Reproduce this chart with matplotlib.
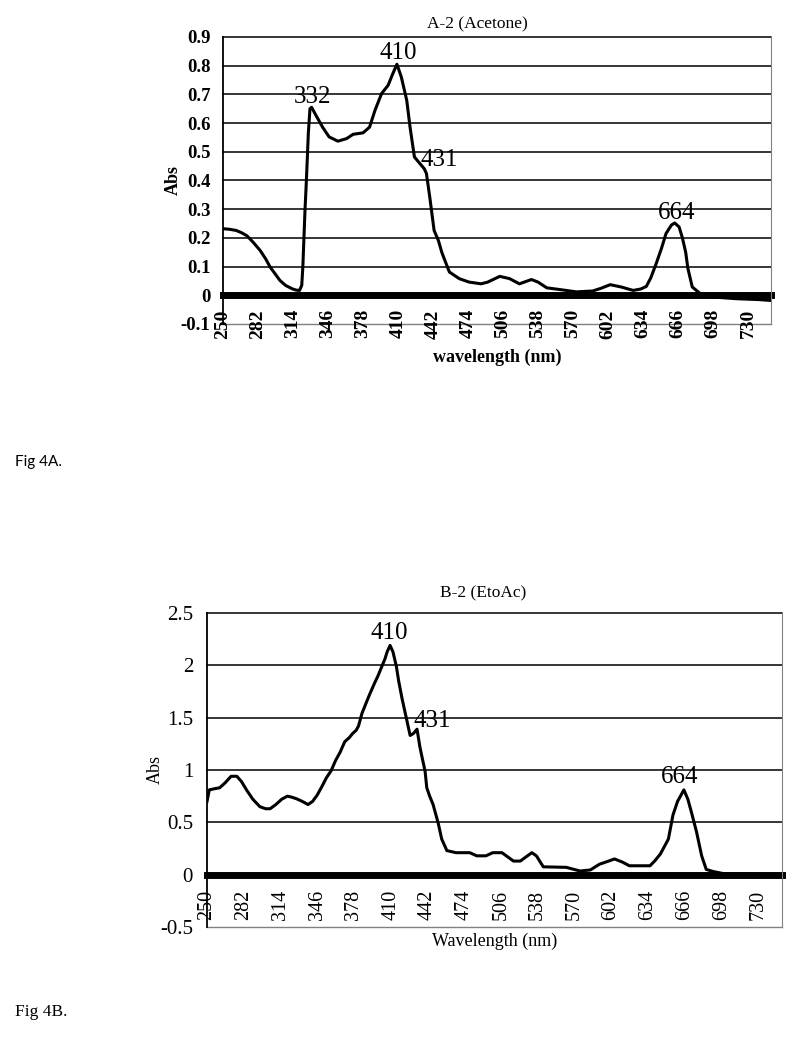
import matplotlib
matplotlib.use("Agg")
import matplotlib.pyplot as plt

# -----------------------------
# Data
# -----------------------------
# Fig 4A : A-2 (Acetone)
wl_a = [250, 256, 262, 267, 272, 278, 284, 289, 293, 298, 302, 307, 313, 317, 320,
        322, 323, 324, 325, 326, 327, 328, 329.5, 331, 335, 341, 347, 355, 363, 369,
        378, 384, 389, 395, 401, 405, 409, 413, 418, 421, 425, 430, 434, 436, 439,
        443, 447, 450, 453, 457, 466, 475, 486, 492, 503, 512, 521, 532, 538, 546,
        558, 573, 588, 596, 604, 614, 625, 632, 637, 641, 646, 651, 655, 660, 663,
        667, 670, 673, 675, 679, 686, 698, 720, 740, 751]
abs_a = [0.232, 0.230, 0.226, 0.218, 0.207, 0.183, 0.156, 0.127, 0.099, 0.073, 0.052,
         0.035, 0.023, 0.018, 0.017, 0.035, 0.10, 0.20, 0.30, 0.38, 0.47, 0.564, 0.65,
         0.655, 0.627, 0.586, 0.552, 0.537, 0.546, 0.561, 0.566, 0.586, 0.645, 0.703,
         0.732, 0.77, 0.805, 0.761, 0.679, 0.586, 0.482, 0.459, 0.441, 0.424, 0.343,
         0.226, 0.19, 0.15, 0.12, 0.081, 0.058, 0.046, 0.040, 0.046, 0.066, 0.058,
         0.040, 0.055, 0.046, 0.026, 0.020, 0.012, 0.015, 0.025, 0.037, 0.029, 0.017,
         0.022, 0.031, 0.06, 0.11, 0.165, 0.215, 0.245, 0.252, 0.238, 0.20, 0.15,
         0.094, 0.029, 0.007, -0.006, -0.012, -0.015, -0.018]
peaks_a = [332, 410, 431, 664]
peak_pos_a = [(332, 0.692), (410, 0.845), (448, 0.472), (665, 0.287)]
yticks_a = [-0.1, 0, 0.1, 0.2, 0.3, 0.4, 0.5, 0.6, 0.7, 0.8, 0.9]
ylabels_a = ["-0.1", "0", "0.1", "0.2", "0.3", "0.4", "0.5", "0.6", "0.7", "0.8", "0.9"]

# Fig 4B : B-2 (EtoAc)
wl_b = [250, 252, 256, 261, 266, 271, 276, 280, 285, 290, 296, 301, 305, 310, 315,
        320, 324, 328, 333, 338, 342, 346, 350, 354, 358, 362, 366, 370, 374, 377,
        380, 382, 385, 389, 392, 396, 399, 402, 405, 407, 409.5, 412, 415, 417, 420,
        424, 427, 430, 433, 435.5, 438, 440, 441.5, 444, 447, 451.5, 454.5, 459,
        467, 479, 485, 493, 499, 507, 512, 517, 523, 528, 533, 537, 543, 563, 575,
        584, 592, 600, 605, 612, 618, 636, 640, 645, 652, 656, 660, 665.5, 669, 672,
        676.5, 681, 685, 691, 700, 734, 745, 751]
abs_b = [0.70, 0.81, 0.82, 0.83, 0.88, 0.94, 0.94, 0.89, 0.80, 0.72, 0.65, 0.63, 0.63,
         0.67, 0.72, 0.75, 0.74, 0.725, 0.70, 0.67, 0.70, 0.76, 0.84, 0.925, 0.99,
         1.09, 1.17, 1.27, 1.31, 1.35, 1.38, 1.42, 1.54, 1.65, 1.73, 1.83, 1.90, 1.98,
         2.06, 2.13, 2.19, 2.13, 1.99, 1.85, 1.68, 1.48, 1.33, 1.35, 1.39, 1.22, 1.09,
         0.99, 0.83, 0.75, 0.67, 0.49, 0.34, 0.23, 0.21, 0.21, 0.18, 0.18, 0.21, 0.21,
         0.17, 0.13, 0.13, 0.17, 0.21, 0.18, 0.075, 0.07, 0.035, 0.045, 0.10, 0.13,
         0.15, 0.12, 0.085, 0.085, 0.13, 0.197, 0.34, 0.57, 0.70, 0.81, 0.72, 0.60,
         0.41, 0.18, 0.05, 0.03, 0.01, 0.0, -0.01, -0.01]
peaks_b = [410, 431, 664]
peak_pos_b = [(408.5, 2.31), (446, 1.47), (662, 0.93)]
yticks_b = [-0.5, 0, 0.5, 1, 1.5, 2, 2.5]
ylabels_b = ["-0.5", "0", "0.5", "1", "1.5", "2", "2.5"]

xticks = list(range(250, 731, 32))
xlabels = [str(v) for v in xticks]

serif = "Liberation Serif"

# -----------------------------
# Plot
# -----------------------------
fig = plt.figure(figsize=(7.95, 10.5), dpi=100)


def spectrum(ax, wl, ab, yticks, ylabels, peaks, peak_pos, title, xlabel,
             weight, xfs, yfs, xpad, ypad, title_x, title_pad, xlab_y, ylab_x):
    ax.plot(wl, ab, color="black", lw=2.2, zorder=3)
    ax.set_xlim(250, 751)
    ax.set_ylim(yticks[0], yticks[-1])

    # horizontal grid, black
    for v in yticks[2:]:
        ax.axhline(v, color="black", lw=1.1, zorder=1, clip_on=False)
    ax.axhline(yticks[0], color="gray", lw=1, zorder=1, clip_on=False)

    # category axis crosses at zero (thick band)
    ax.spines["bottom"].set_position(("data", 0))
    ax.spines["bottom"].set_linewidth(5)
    ax.spines["bottom"].set_zorder(2)
    ax.spines["top"].set_visible(False)
    ax.spines["right"].set_color("gray")
    ax.spines["left"].set_linewidth(1.3)

    ax.set_xticks(xticks, xlabels, rotation=90, fontfamily=serif,
                  fontsize=xfs, fontweight=weight)
    ax.set_yticks(yticks, ylabels, fontfamily=serif, fontsize=yfs,
                  fontweight=weight)
    ax.tick_params(axis="x", length=0, pad=xpad)
    ax.tick_params(axis="y", length=0, pad=ypad)

    for p, (px, py) in zip(peaks, peak_pos):
        ax.text(px, py, str(p), ha="center", va="center", fontsize=18,
                fontfamily=serif)

    ax.set_title(title, fontfamily=serif, fontsize=12.5, pad=title_pad, x=title_x)
    ax.set_xlabel(xlabel, fontfamily=serif, fontsize=13, fontweight=weight)
    ax.xaxis.set_label_coords(0.5, xlab_y)
    ax.set_ylabel("Abs", fontfamily=serif, fontsize=13, fontweight=weight,
                  va="center")
    ax.yaxis.set_label_coords(ylab_x, 0.5)


ax_a = fig.add_axes([223 / 795, 1 - 324 / 1050, 548 / 795, 287 / 1050])
spectrum(ax_a, wl_a, abs_a, yticks_a, ylabels_a, peaks_a, peak_pos_a,
         "A-2 (Acetone)", "wavelength (nm)", "bold", 14, 13.5, 10, 9,
         0.4635, 6, -0.087, -0.091)

ax_b = fig.add_axes([207 / 795, 1 - 927 / 1050, 575 / 795, 314 / 1050])
spectrum(ax_b, wl_b, abs_b, yticks_b, ylabels_b, peaks_b, peak_pos_b,
         "B-2 (EtoAc)", "Wavelength (nm)", "normal", 14.5, 15, 11, 10,
         0.48, 11, -0.019, -0.090)

fig.text(15 / 795, 1 - 462 / 1050, "Fig 4A.", fontfamily="Lato", fontsize=11,
         va="center")
fig.text(15 / 795, 1 - 1012 / 1050, "Fig 4B.", fontfamily=serif, fontsize=12.5,
         va="center")

fig.savefig("out.png", dpi=100)
